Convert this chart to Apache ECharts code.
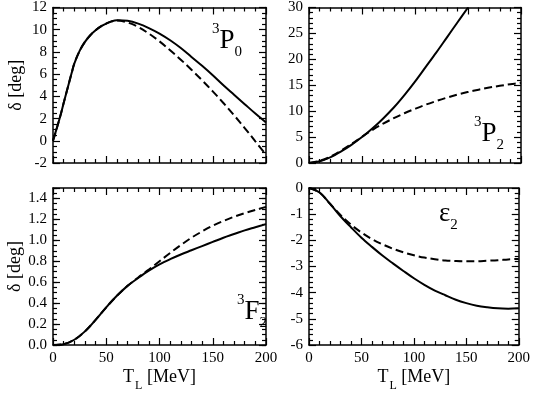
<!DOCTYPE html>
<html>
<head>
<meta charset="utf-8">
<script src="https://cdn.jsdelivr.net/npm/echarts@6/dist/echarts.min.js"></script>
<style>
  html, body { margin: 0; padding: 0; background: #fff; }
  #chart { width: 533px; height: 393px; }
</style>
</head>
<body>
<div id="chart"></div>
<script>
// Four phase-shift panels (3P0, 3P2, 3F2, eps2) vs lab energy.
// Solid = full calculation, dashed = comparison curve.
const FONT = "'Liberation Serif', 'Times New Roman', serif";
const BLACK = '#000';

// energies in MeV
const energies = [0, 10, 20, 30, 40, 50, 60, 70, 80, 90, 100, 110, 120, 130, 140, 150, 160, 170, 180, 190, 200];
const energiesP0 = [0, 2.5, 5, 7.5, 10, 12.5, 15, 17.5, 20, 25, 30, 35, 40, 45, 50, 55, 60,
  70, 80, 90, 100, 110, 120, 130, 140, 150, 160, 170, 180, 190, 200];
const energiesP2Solid = energies.slice(0, 16); // leaves the frame at 150 MeV

// phase shifts in degrees
const p0Solid = [0, 0.8, 1.6, 2.45, 3.4, 4.3, 5.2, 6.1, 6.95, 8.1, 8.9, 9.5, 9.95, 10.3, 10.55, 10.75, 10.85,
  10.8, 10.55, 10.15, 9.65, 9.05, 8.35, 7.55, 6.75, 5.9, 5.0, 4.15, 3.3, 2.45, 1.65];
const p0Dashed = [0, 0.8, 1.6, 2.45, 3.4, 4.3, 5.2, 6.1, 6.95, 8.1, 8.9, 9.5, 9.95, 10.3, 10.55, 10.75, 10.82,
  10.65, 10.25, 9.65, 8.95, 8.15, 7.3, 6.4, 5.45, 4.45, 3.4, 2.3, 1.15, -0.05, -1.25];
const p2Solid = [0, 0.35, 1.1, 2.2, 3.5, 5.0, 6.7, 8.6, 10.7, 13.1, 15.7, 18.5, 21.3, 24.2, 27.1, 30.0];
const p2Dashed = [0, 0.4, 1.2, 2.35, 3.65, 5.05, 6.4, 7.6, 8.65, 9.6, 10.45, 11.25, 11.95, 12.6, 13.2, 13.7,
  14.15, 14.55, 14.9, 15.2, 15.45];
const f2Solid = [0, 0.008, 0.05, 0.13, 0.24, 0.36, 0.47, 0.565, 0.64, 0.71, 0.77, 0.82, 0.865, 0.905, 0.945,
  0.985, 1.025, 1.06, 1.095, 1.125, 1.155];
const f2Dashed = [0, 0.008, 0.05, 0.13, 0.24, 0.36, 0.47, 0.565, 0.645, 0.72, 0.8, 0.88, 0.955, 1.025, 1.085,
  1.14, 1.185, 1.225, 1.26, 1.29, 1.32];
const e2Solid = [0, -0.17, -0.6, -1.08, -1.5, -1.9, -2.25, -2.58, -2.88, -3.17, -3.45, -3.7, -3.92, -4.1, -4.27,
  -4.4, -4.5, -4.56, -4.6, -4.61, -4.6];
const e2Dashed = [0, -0.17, -0.6, -1.03, -1.4, -1.7, -1.95, -2.15, -2.32, -2.46, -2.57, -2.66, -2.72, -2.77,
  -2.79, -2.8, -2.8, -2.78, -2.76, -2.73, -2.71];

// axis ranges: [min, max, major interval]
const xRange = [0, 200, 50];
const p0Range = [-2, 12, 2];
const p2Range = [0, 30, 5];
const f2Range = [0, 1.5, 0.2];
const e2Range = [-6, 0, 1];

const panels = [
  { grid: { left: 53, top: 6, width: 213, height: 157 }, yRange: p0Range, minor: 4,
    solid: [energiesP0, p0Solid], dashed: [energiesP0, p0Dashed],
    tag: '{sup|3}{big|P}{sub|0}', tagPos: [212, 22] },
  { grid: { left: 309, top: 6, width: 212, height: 157 }, yRange: p2Range, minor: 5,
    solid: [energiesP2Solid, p2Solid], dashed: [energies, p2Dashed],
    tag: '{sup|3}{big|P}{sub|2}', tagPos: [474, 115] },
  { grid: { left: 53, top: 188, width: 213, height: 158 }, yRange: f2Range, minorStep: 0.05,
    solid: [energies, f2Solid], dashed: [energies, f2Dashed],
    tag: '{sup|3}{big|F}{sub|2}', tagPos: [237, 293], fmt: v => (Math.abs(v - 1.5) < 1e-9 ? '' : v.toFixed(1)) },
  { grid: { left: 309, top: 188, width: 212, height: 158 }, yRange: e2Range, minor: 5,
    solid: [energies, e2Solid], dashed: [energies, e2Dashed],
    tag: '{big|ε}{sub|2}', tagPos: [439, 195] }
];

const tickLine = { color: BLACK, width: 1.2 };

function axis(gridIndex, position, range, opts) {
  const [min, max, interval] = range;
  return {
    gridIndex, position, type: 'value', min, max, interval,
    axisLine: { show: opts.line !== false, onZero: false, lineStyle: { color: BLACK, width: 1.5 } },
    axisTick: { show: true, inside: true, length: opts.tickLen || 7, lineStyle: tickLine },
    minorTick: { show: !!opts.minor, splitNumber: opts.minor || 5, length: 4, lineStyle: tickLine },
    splitLine: { show: false },
    axisLabel: {
      show: !!opts.labels, color: BLACK, fontFamily: FONT, fontSize: 15, margin: 6,
      formatter: opts.fmt || (v => String(v))
    },
    name: opts.name || '',
    nameLocation: 'middle',
    nameGap: opts.nameGap || 0,
    nameTextStyle: opts.nameStyle || {},
    z: 5
  };
}

const yTitleStyle = { color: BLACK, fontFamily: FONT, fontSize: 18 };
const xTitleStyle = {
  color: BLACK, fontFamily: FONT, fontSize: 18,
  rich: {
    t: { fontFamily: FONT, fontSize: 18, color: BLACK, verticalAlign: 'top', lineHeight: 20 },
    s: { fontFamily: FONT, fontSize: 12, color: BLACK, verticalAlign: 'top', lineHeight: 13, padding: [12, 0, 0, 1] }
  }
};

const xAxes = [], yAxes = [], series = [], graphics = [];

panels.forEach((p, i) => {
  const bottomRow = i >= 2;
  const leftCol = i % 2 === 0;
  const xi = xAxes.length;
  xAxes.push(axis(i, 'bottom', xRange, {
    minor: 5, labels: bottomRow,
    name: bottomRow ? '{t|T}{s|L}{t| [MeV]}' : '', nameGap: 23, nameStyle: xTitleStyle
  }));
  xAxes.push(axis(i, 'top', xRange, { minor: 5 }));

  const yi = yAxes.length;
  yAxes.push(axis(i, 'left', p.yRange, {
    minor: p.minor, labels: true, fmt: p.fmt,
    name: leftCol ? 'δ [deg]' : '', nameGap: 28, nameStyle: yTitleStyle
  }));
  yAxes.push(axis(i, 'right', p.yRange, { minor: p.minor }));
  if (p.minorStep) {
    // the major step does not divide the range, so short ticks come from their own axes
    const fine = [p.yRange[0], p.yRange[1], p.minorStep];
    yAxes.push(axis(i, 'left', fine, { line: false, tickLen: 4 }));
    yAxes.push(axis(i, 'right', fine, { line: false, tickLen: 4 }));
  }

  const lineSeries = (pair, type) => ({
    type: 'line', xAxisIndex: xi, yAxisIndex: yi,
    data: pair[0].map((e, k) => [e, pair[1][k]]),
    showSymbol: false, smooth: 0.35, clip: true, silent: true,
    lineStyle: { color: BLACK, width: 2, type }
  });
  series.push(lineSeries(p.dashed, [8, 4]));
  series.push(lineSeries(p.solid, 'solid'));

  graphics.push({
    type: 'text', left: p.tagPos[0], top: p.tagPos[1], z: 10,
    style: {
      text: p.tag, fill: BLACK,
      rich: {
        sup: { fontFamily: FONT, fontSize: 15, verticalAlign: 'top', lineHeight: 16 },
        big: { fontFamily: FONT, fontSize: 27, verticalAlign: 'top', lineHeight: 28, padding: [5, 0, 0, 0] },
        sub: { fontFamily: FONT, fontSize: 15, verticalAlign: 'top', lineHeight: 16, padding: [23, 0, 0, 0] }
      }
    }
  });
});

const chart = echarts.init(document.getElementById('chart'), null, { renderer: 'canvas' });
chart.setOption({
  animation: false,
  backgroundColor: '#fff',
  grid: panels.map(p => Object.assign({ containLabel: false }, p.grid)),
  xAxis: xAxes,
  yAxis: yAxes,
  series,
  graphic: graphics
});
</script>
</body>
</html>
